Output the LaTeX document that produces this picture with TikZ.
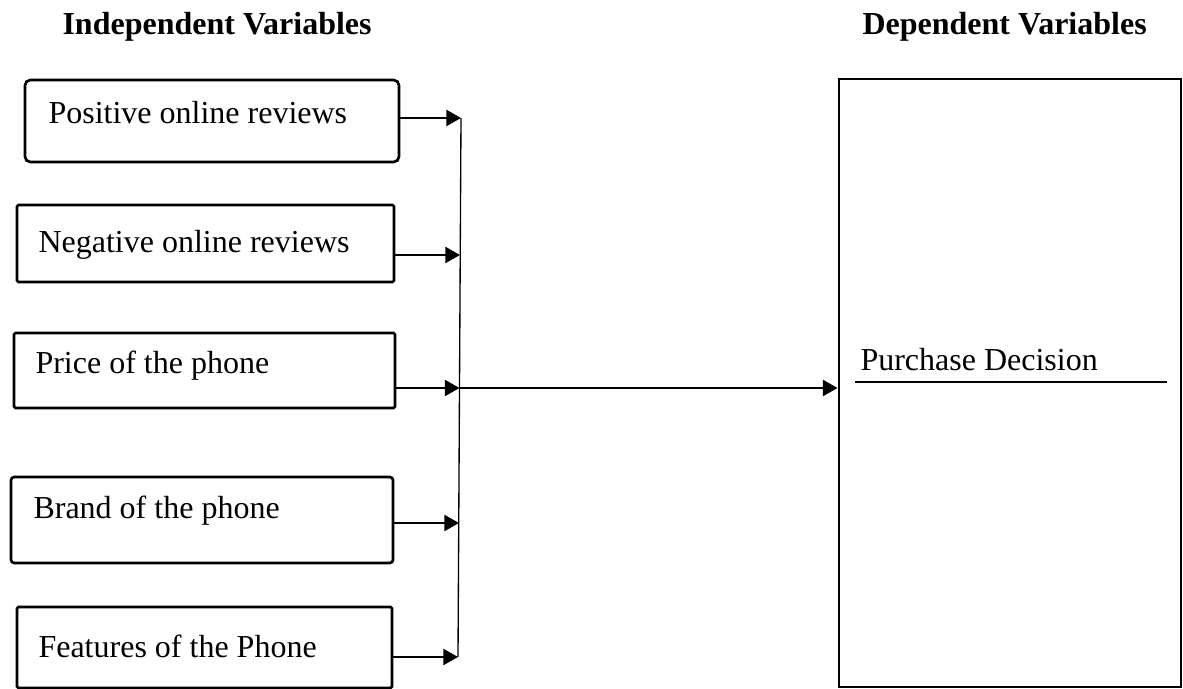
\documentclass[tikz,border=0pt]{standalone}
\usepackage{fontspec}
\setmainfont{Liberation Serif}
\usepackage{tikz}
\usetikzlibrary{arrows.meta}

\begin{document}
\begin{tikzpicture}[x=0.375pt,y=-0.375pt,
		font=\fontsize{12pt}{14pt}\selectfont,
		var/.style={draw,line width=1pt,inner sep=0pt},
		txt/.style={anchor=base west,inner sep=0pt},
		>={Triangle[length=5.5pt,width=6pt]}]
		\useasboundingbox (0,0) rectangle (1183,689);
		%
		\node[txt,font=\fontsize{12pt}{14pt}\selectfont\bfseries] (iv) at (62,35) {Independent Variables};
		\node[txt,font=\fontsize{12pt}{14pt}\selectfont\bfseries] (dv) at (862,35) {Dependent Variables};
		%
		\node[var,rounded corners=2pt,minimum width=140.25pt,minimum height=30.75pt] (B1) at (212,121) {};
		\node[var,rounded corners=0.6pt,minimum width=141.4pt,minimum height=28.9pt] (B2) at (205.5,243.5) {};
		\node[var,rounded corners=0.6pt,minimum width=142.9pt,minimum height=28.1pt] (B3) at (204.5,370.5) {};
		\node[var,rounded corners=1.2pt,minimum width=143.25pt,minimum height=32.25pt] (B4) at (202,520) {};
		\node[var,rounded corners=0.6pt,minimum width=140.6pt,minimum height=30.4pt] (B5) at (204.5,647.5) {};
		\node[var,line width=1.1pt,minimum width=128.25pt,minimum height=228pt] (PD) at (1010,383) {};
		%
		\node[txt] (L1) at (48,123) {Positive online reviews};
		\node[txt] (L2) at (38,252) {Negative online reviews};
		\node[txt] (L3) at (35,373) {Price of the phone};
		\node[txt] (L4) at (33,518) {Brand of the phone};
		\node[txt] (L5) at (38,657) {Features of the Phone};
		\node[txt] (L6) at (860,370) {Purchase Decision};
		%
		\coordinate (T1) at (461,118);
		\coordinate (T2) at (460,255);
		\coordinate (T3) at (459.5,388);
		\coordinate (T4) at (459,523);
		\coordinate (T5) at (458,657);
		%
		\draw[line width=0.5pt] (T1) -- (T5);
		\path[->,line width=0.9pt]
		(T1 -| B1.east) edge (T1)
		(T2 -| B2.east) edge (T2)
		(T3 -| B3.east) edge (T3)
		(T4 -| B4.east) edge (T4)
		(T5 -| B5.east) edge (T5)
		(T3) edge (T3 -| PD.west);
		%
		\draw[line width=0.9pt] (855,382) -- (1167,382);
		\end{tikzpicture}
\end{document}
